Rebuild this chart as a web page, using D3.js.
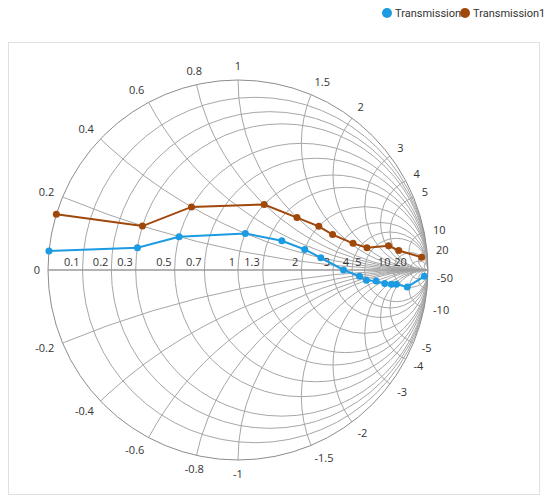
<!DOCTYPE html>
<html>
<head>
<meta charset="utf-8">
<script src="https://cdn.jsdelivr.net/npm/d3@7"></script>
<style>
  body { margin: 0; background: #fff; font-family: "Open Sans", sans-serif; }
  text { font-size: 11px; fill: #333; }
</style>
</head>
<body>
<svg id="chart" width="544" height="500"></svg>
<script>
// impedance values (resistance, reactance)
var seriesNames = ["Transmission0", "Transmission1"];
var seriesColors = ["#1c9be2", "#a0470a"];

var t0Resistance = [0, 0.3, 0.5, 1, 1.5, 2, 2.5, 3.5, 4.5, 5, 6, 7, 8, 9, 10, 25];
var t0Reactance  = [0.05, 0.1, 0.2, 0.4, 0.5, 0.5, 0.4, 0, -0.5, -1, -1.5, -2.5, -3.5, -4.5, -9, -45];

var t1Resistance = [0, 0.3, 0.5, 1, 1.5, 2, 2.5, 3.5, 4.5, 6, 8, 11];
var t1Reactance  = [0.15, 0.2, 0.4, 0.8, 1, 1.2, 1.3, 1.6, 2, 4.3, 6, 24];

var resistanceTicks = [0.1, 0.2, 0.3, 0.5, 0.7, 1, 1.3, 2, 3, 4, 5, 10, 20];
var reactanceTicks = [0.2, 0.4, 0.6, 0.8, 1, 1.5, 2, 3, 4, 5, 10, 20, 50,
                      -0.2, -0.4, -0.6, -0.8, -1, -1.5, -2, -3, -4, -5, -10, -20, -50];
var reactanceLabels = [0.2, 0.4, 0.6, 0.8, 1, 1.5, 2, 3, 4, 5, 10, 20,
                       -0.2, -0.4, -0.6, -0.8, -1, -1.5, -2, -3, -4, -5, -10, -50];

var svg = d3.select('#chart');

svg.append('rect')
  .attr('x', 8.5).attr('y', 42.5)
  .attr('width', 531).attr('height', 452)
  .attr('fill', 'none').attr('stroke', '#e0e0e0');

var gx = d3.scaleLinear().domain([-1, 1]).range([48, 428]);
var gy = d3.scaleLinear().domain([-1, 1]).range([460, 80]);
var pr = gx(1) - gx(0);

// impedance -> reflection coefficient
function gamma(r, x) {
  var d = (r + 1) * (r + 1) + x * x;
  return [(r * r + x * x - 1) / d, 2 * x / d];
}

svg.append('clipPath').attr('id', 'unit')
  .append('circle').attr('cx', gx(0)).attr('cy', gy(0)).attr('r', pr);

var grid = svg.append('g').attr('clip-path', 'url(#unit)')
  .attr('fill', 'none').attr('stroke', '#a6a6a6').attr('stroke-width', 1);

grid.selectAll('.rcircle').data(resistanceTicks).enter().append('circle')
  .attr('cx', function(d){ return gx(d / (d + 1)) })
  .attr('cy', gy(0))
  .attr('r', function(d){ return pr / (d + 1) });

grid.selectAll('.xcircle').data(reactanceTicks).enter().append('circle')
  .attr('cx', gx(1))
  .attr('cy', function(d){ return gy(1 / d) })
  .attr('r', function(d){ return pr / Math.abs(d) });

svg.append('circle')
  .attr('cx', gx(0)).attr('cy', gy(0)).attr('r', pr)
  .attr('fill', 'none').attr('stroke', '#8c8c8c');

svg.append('line')
  .attr('x1', gx(-1)).attr('x2', gx(1))
  .attr('y1', gy(0)).attr('y2', gy(0))
  .attr('stroke', '#9a9a9a').attr('stroke-width', 1.5);

svg.selectAll('.rlabel').data(resistanceTicks).enter().append('text')
  .attr('x', function(d){ return gx((d - 1) / (d + 1)) - 3 })
  .attr('y', gy(0) - 4)
  .attr('text-anchor', 'end')
  .text(function(d){ return d });

svg.append('text').attr('x', gx(-1) - 8).attr('y', gy(0) + 4)
  .attr('text-anchor', 'end').text('0');

svg.selectAll('.xlabel').data(reactanceLabels).enter().append('text')
  .each(function(d){
    var g = gamma(0, d);
    var a = Math.atan2(g[1], g[0]);
    var c = Math.cos(a), s = Math.sin(a);
    var rr = pr + 9;
    d3.select(this)
      .attr('x', gx(0) + rr * c)
      .attr('y', gy(0) - rr * s + 4 - s * 5)
      .attr('text-anchor', c > 0.3 ? 'start' : (c < -0.3 ? 'end' : 'middle'));
  })
  .text(function(d){ return d });

var series = [
  d3.zip(t0Resistance, t0Reactance),
  d3.zip(t1Resistance, t1Reactance)
];

var line = d3.line()
  .x(function(d){ return gx(gamma(d[0], d[1])[0]) })
  .y(function(d){ return gy(gamma(d[0], d[1])[1]) });

series.forEach(function(data, i){
  svg.append('path').datum(data)
    .attr('d', line)
    .attr('fill', 'none')
    .attr('stroke', seriesColors[i]).attr('stroke-width', 2);
  svg.selectAll('.pt' + i).data(data).enter().append('circle')
    .attr('cx', function(d){ return gx(gamma(d[0], d[1])[0]) })
    .attr('cy', function(d){ return gy(gamma(d[0], d[1])[1]) })
    .attr('r', 3.5)
    .attr('fill', seriesColors[i]);
});

var legend = svg.selectAll('.legend').data(seriesNames).enter().append('g')
  .attr('transform', function(d, i){ return 'translate(' + (387 + i * 78) + ',13)' });
legend.append('circle').attr('r', 5).attr('fill', function(d, i){ return seriesColors[i] });
legend.append('text').attr('x', 8).attr('y', 4)
  .style('font-family', 'Roboto, sans-serif').style('font-size', '11px')
  .text(function(d){ return d });
</script>
</body>
</html>
